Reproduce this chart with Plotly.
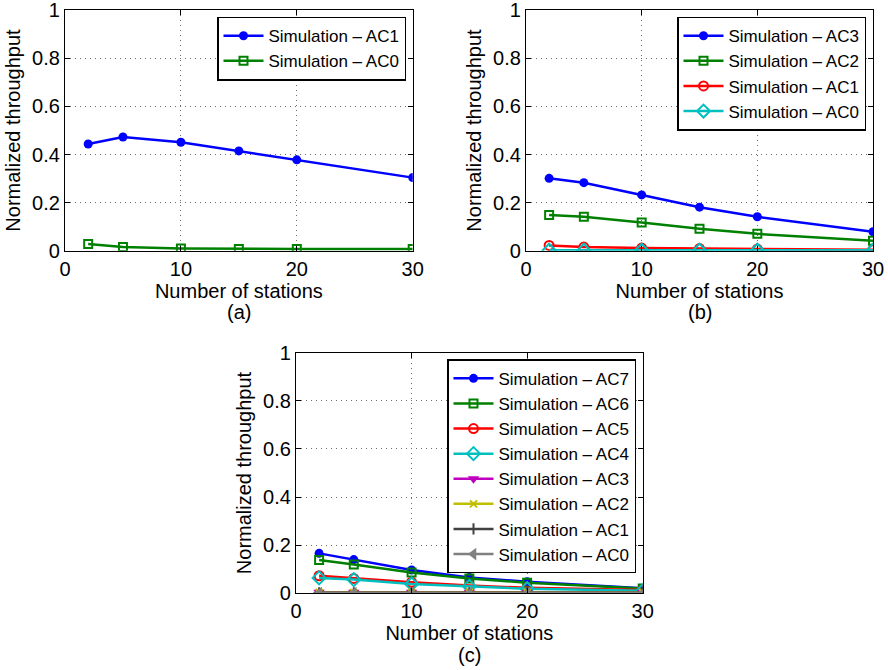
import plotly.graph_objects as go

stations = [2, 5, 10, 15, 20, 30]

# Panel (a)
a_ac1 = [0.444, 0.473, 0.451, 0.415, 0.378, 0.304]
a_ac0 = [0.028, 0.015, 0.009, 0.007, 0.007, 0.007]

# Panel (b)
b_ac3 = [0.301, 0.283, 0.232, 0.181, 0.141, 0.079]
b_ac2 = [0.149, 0.141, 0.117, 0.091, 0.070, 0.041]
b_ac1 = [0.022, 0.015, 0.011, 0.009, 0.007, 0.004]
b_ac0 = [0.002, 0.002, 0.002, 0.002, 0.002, 0.002]

# Panel (c)
c_ac7 = [0.166, 0.140, 0.097, 0.066, 0.048, 0.021]
c_ac6 = [0.138, 0.120, 0.086, 0.062, 0.044, 0.020]
c_ac5 = [0.073, 0.062, 0.046, 0.032, 0.023, 0.014]
c_ac4 = [0.064, 0.057, 0.039, 0.029, 0.019, 0.011]
c_ac3 = [0.004, 0.004, 0.004, 0.004, 0.004, 0.004]
c_ac2 = [0.003, 0.003, 0.003, 0.003, 0.003, 0.003]
c_ac1 = [0.002, 0.002, 0.002, 0.002, 0.002, 0.002]
c_ac0 = [0.001, 0.001, 0.001, 0.001, 0.001, 0.001]

x_ticks = [0, 10, 20, 30]
y_ticks = [0, 0.2, 0.4, 0.6, 0.8, 1]
y_tick_text = ["0", "0.2", "0.4", "0.6", "0.8", "1"]

BLUE = "rgb(0,0,255)"
GREEN = "rgb(0,128,0)"
RED = "rgb(255,0,0)"
CYAN = "rgb(0,191,191)"
MAGENTA = "rgb(191,0,191)"
YELLOW = "rgb(191,191,0)"
DARK = "rgb(64,64,64)"
GRAY = "rgb(128,128,128)"

STYLES = {
    "circle": dict(symbol="circle", size=9),
    "square": dict(symbol="square-open", size=8, line=dict(width=2)),
    "circle-open": dict(symbol="circle-open", size=9, line=dict(width=2)),
    "diamond": dict(symbol="diamond-open", size=10, line=dict(width=2)),
    "tri-down": dict(symbol="triangle-down", size=10),
    "x": dict(symbol="x-thin-open", size=7, line=dict(width=2)),
    "cross": dict(symbol="cross-thin-open", size=8, line=dict(width=2)),
    "tri-left": dict(symbol="triangle-left", size=11),
}

fig = go.Figure()

def add(x, y, name, color, style, ax, legend):
    m = dict(STYLES[style])
    m["color"] = color
    if "line" in m:
        m["line"] = dict(m["line"], color=color)
    fig.add_trace(go.Scatter(
        x=x, y=y, name=name, mode="lines+markers",
        line=dict(color=color, width=2.5), marker=m,
        xaxis="x" + ax, yaxis="y" + ax, legend=legend,
    ))

add(stations, a_ac1, "Simulation – AC1", BLUE, "circle", "", "legend")
add(stations, a_ac0, "Simulation – AC0", GREEN, "square", "", "legend")

add(stations, b_ac3, "Simulation – AC3", BLUE, "circle", "2", "legend2")
add(stations, b_ac2, "Simulation – AC2", GREEN, "square", "2", "legend2")
add(stations, b_ac1, "Simulation – AC1", RED, "circle-open", "2", "legend2")
add(stations, b_ac0, "Simulation – AC0", CYAN, "diamond", "2", "legend2")

add(stations, c_ac7, "Simulation – AC7", BLUE, "circle", "3", "legend3")
add(stations, c_ac6, "Simulation – AC6", GREEN, "square", "3", "legend3")
add(stations, c_ac5, "Simulation – AC5", RED, "circle-open", "3", "legend3")
add(stations, c_ac4, "Simulation – AC4", CYAN, "diamond", "3", "legend3")
add(stations, c_ac3, "Simulation – AC3", MAGENTA, "tri-down", "3", "legend3")
add(stations, c_ac2, "Simulation – AC2", YELLOW, "x", "3", "legend3")
add(stations, c_ac1, "Simulation – AC1", DARK, "cross", "3", "legend3")
add(stations, c_ac0, "Simulation – AC0", GRAY, "tri-left", "3", "legend3")

FONT = "Liberation Sans, Arial, Helvetica, sans-serif"
GRID = dict(showgrid=True, gridcolor="rgb(110,110,110)", griddash="1px,4px", gridwidth=1)
FS = 20

def xax(domain, anchor):
    return dict(domain=domain, anchor=anchor, range=[0, 30], tickvals=x_ticks,
                ticks="inside", ticklen=5, tickcolor="black", showline=True,
                linecolor="black", linewidth=1.2, mirror="ticks", zeroline=False,
                automargin=False, ticklabeloverflow="allow", **GRID,
                tickfont=dict(size=FS, color="black"),
                title=dict(text="Number of stations", font=dict(size=FS, color="black"), standoff=4))

def yax(domain, anchor):
    return dict(domain=domain, anchor=anchor, range=[0, 1], tickvals=y_ticks, ticktext=y_tick_text,
                ticks="inside", ticklen=5, tickcolor="black", showline=True,
                linecolor="black", linewidth=1.2, mirror="ticks", zeroline=False,
                automargin=False, ticklabeloverflow="allow", **GRID,
                tickfont=dict(size=FS, color="black"),
                title=dict(text="Normalized throughput", font=dict(size=FS, color="black"), standoff=6))

def leg(xr, yt):
    return dict(x=xr, y=yt, xanchor="right", yanchor="top", bgcolor="white",
                bordercolor="black", borderwidth=1.5, font=dict(size=17, color="black"),
                itemwidth=40, tracegroupgap=0)

ya = [1 - 250.7 / 670, 1 - 10.3 / 670]
yc = [1 - 593.3 / 670, 1 - 352.7 / 670]

fig.update_layout(
    template="none",
    width=888, height=670,
    margin=dict(l=0, r=0, t=0, b=0),
    paper_bgcolor="white", plot_bgcolor="white",
    font=dict(family=FONT, color="black"),
    xaxis=xax([65 / 888, 412.7 / 888], "y"),
    yaxis=yax(ya, "x"),
    xaxis2=xax([526 / 888, 873 / 888], "y2"),
    yaxis2=yax(ya, "x2"),
    xaxis3=xax([296 / 888, 642.7 / 888], "y3"),
    yaxis3=yax(yc, "x3"),
    legend=leg(406 / 888, 1 - 16.7 / 670),
    legend2=leg(866 / 888, 1 - 16.7 / 670),
    legend3=leg(636 / 888, 1 - 359.3 / 670),
    annotations=[
        dict(text="(a)", x=239 / 888, y=1 - 312 / 670, xref="paper", yref="paper",
             xanchor="center", yanchor="middle", showarrow=False, font=dict(size=FS, color="black")),
        dict(text="(b)", x=699.5 / 888, y=1 - 312 / 670, xref="paper", yref="paper",
             xanchor="center", yanchor="middle", showarrow=False, font=dict(size=FS, color="black")),
        dict(text="(c)", x=469.3 / 888, y=1 - 655 / 670, xref="paper", yref="paper",
             xanchor="center", yanchor="middle", showarrow=False, font=dict(size=FS, color="black")),
    ],
)

fig.write_html("out.html")
